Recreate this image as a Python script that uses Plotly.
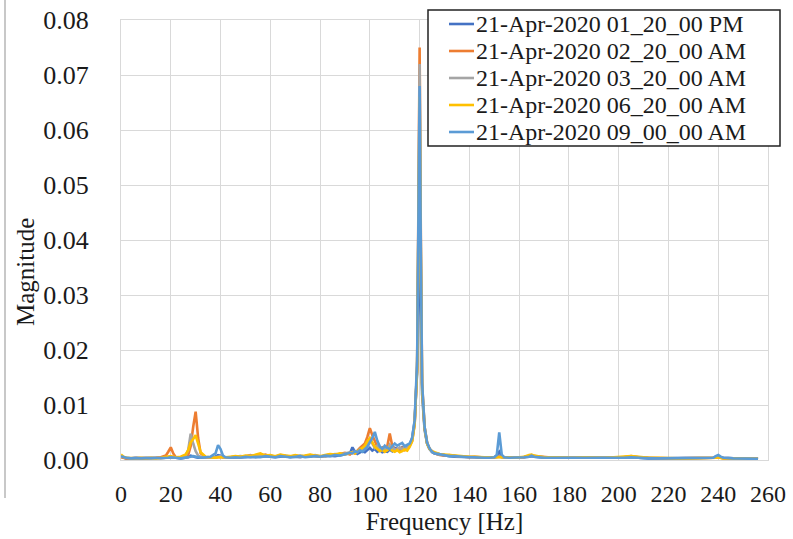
import plotly.graph_objects as go

# Frequency grid [Hz]
freq = [
    0, 1, 2, 4, 6, 8, 10, 12, 14, 16,
    18, 19, 20, 21, 22, 24, 26, 27, 28, 29,
    30, 31, 32, 34, 36, 38, 39, 40, 41, 42,
    44, 46, 48, 50, 52, 54, 56, 58, 60, 62,
    64, 66, 68, 70, 72, 74, 76, 78, 80, 82,
    84, 86, 88, 90, 92, 93, 94, 95, 96, 97,
    98, 99, 100, 101, 102, 103, 104, 105, 106, 107,
    108, 109, 110, 111, 112, 113, 114, 115, 116, 117,
    118, 119, 119.5, 120, 120.5, 121, 122, 123, 124, 125,
    126, 128, 130, 132, 134, 136, 138, 140, 142, 144,
    146, 148, 150, 151, 152, 153, 154, 156, 158, 160,
    162, 164, 165, 166, 168, 170, 174, 178, 182, 186,
    190, 194, 198, 202, 205, 208, 212, 216, 220, 224,
    228, 232, 236, 238, 239, 240, 241, 242, 246, 250,
    253, 256,
]

mag_0120pm = [
    0.0006, 0.0004, 0.0003, 0.0003, 0.0004, 0.0003, 0.0003, 0.0004, 0.0003, 0.0003,
    0.0004, 0.0005, 0.0005, 0.0004, 0.0004, 0.0003, 0.0004, 0.0005, 0.0008, 0.0006,
    0.0005, 0.0004, 0.0004, 0.0004, 0.0005, 0.0006, 0.0009, 0.0008, 0.0005, 0.0004,
    0.0004, 0.0005, 0.0004, 0.0005, 0.0006, 0.0005, 0.0006, 0.0007, 0.0006, 0.0005,
    0.0006, 0.0007, 0.0005, 0.0006, 0.0005, 0.0007, 0.0006, 0.0008, 0.0006, 0.0007,
    0.0008, 0.0007, 0.0009, 0.0010, 0.0012, 0.0023, 0.0015, 0.0011, 0.0013, 0.0016,
    0.0014, 0.0018, 0.0022, 0.0017, 0.0020, 0.0015, 0.0018, 0.0014, 0.0016, 0.0015,
    0.0019, 0.0016, 0.0022, 0.0020, 0.0017, 0.0023, 0.0020, 0.0024, 0.0028, 0.0040,
    0.0070, 0.0160, 0.0370, 0.0360, 0.0220, 0.0120, 0.0055, 0.0030, 0.0020, 0.0014,
    0.0012, 0.0010, 0.0008, 0.0007, 0.0006, 0.0006, 0.0005, 0.0005, 0.0005, 0.0004,
    0.0004, 0.0004, 0.0005, 0.0008, 0.0015, 0.0007, 0.0005, 0.0004, 0.0004, 0.0004,
    0.0005, 0.0006, 0.0007, 0.0006, 0.0005, 0.0004, 0.0004, 0.0004, 0.0003, 0.0004,
    0.0003, 0.0003, 0.0004, 0.0004, 0.0005, 0.0004, 0.0003, 0.0003, 0.0003, 0.0003,
    0.0003, 0.0003, 0.0003, 0.0004, 0.0006, 0.0007, 0.0005, 0.0004, 0.0003, 0.0003,
    0.0003, 0.0002,
]

mag_0220am = [
    0.0005, 0.0004, 0.0003, 0.0003, 0.0003, 0.0004, 0.0003, 0.0003, 0.0004, 0.0005,
    0.0008, 0.0015, 0.0023, 0.0012, 0.0005, 0.0004, 0.0005, 0.0009, 0.0025, 0.0060,
    0.0088, 0.0040, 0.0012, 0.0005, 0.0004, 0.0004, 0.0005, 0.0005, 0.0004, 0.0004,
    0.0005, 0.0006, 0.0005, 0.0007, 0.0009, 0.0006, 0.0008, 0.0010, 0.0007, 0.0006,
    0.0008, 0.0007, 0.0006, 0.0008, 0.0006, 0.0007, 0.0009, 0.0007, 0.0006, 0.0008,
    0.0010, 0.0009, 0.0011, 0.0013, 0.0010, 0.0014, 0.0012, 0.0018, 0.0022, 0.0026,
    0.0030, 0.0042, 0.0058, 0.0045, 0.0035, 0.0024, 0.0020, 0.0023, 0.0018, 0.0025,
    0.0048, 0.0026, 0.0018, 0.0020, 0.0016, 0.0022, 0.0018, 0.0020, 0.0026, 0.0035,
    0.0065, 0.0170, 0.0450, 0.0750, 0.0400, 0.0140, 0.0060, 0.0032, 0.0020, 0.0015,
    0.0012, 0.0009, 0.0008, 0.0009, 0.0007, 0.0006, 0.0006, 0.0005, 0.0006, 0.0005,
    0.0005, 0.0004, 0.0004, 0.0005, 0.0007, 0.0005, 0.0004, 0.0005, 0.0004, 0.0004,
    0.0005, 0.0007, 0.0009, 0.0007, 0.0006, 0.0005, 0.0004, 0.0004, 0.0004, 0.0004,
    0.0003, 0.0004, 0.0005, 0.0005, 0.0007, 0.0005, 0.0004, 0.0003, 0.0003, 0.0003,
    0.0003, 0.0003, 0.0003, 0.0003, 0.0004, 0.0005, 0.0004, 0.0003, 0.0003, 0.0003,
    0.0003, 0.0002,
]

mag_0320am = [
    0.0006, 0.0005, 0.0004, 0.0003, 0.0004, 0.0003, 0.0004, 0.0003, 0.0004, 0.0003,
    0.0004, 0.0005, 0.0006, 0.0005, 0.0004, 0.0005, 0.0008, 0.0018, 0.0048, 0.0030,
    0.0016, 0.0008, 0.0006, 0.0005, 0.0004, 0.0005, 0.0006, 0.0007, 0.0005, 0.0004,
    0.0005, 0.0006, 0.0007, 0.0006, 0.0008, 0.0007, 0.0009, 0.0007, 0.0008, 0.0006,
    0.0009, 0.0008, 0.0006, 0.0007, 0.0008, 0.0006, 0.0007, 0.0009, 0.0007, 0.0006,
    0.0009, 0.0011, 0.0010, 0.0012, 0.0014, 0.0013, 0.0016, 0.0015, 0.0020, 0.0018,
    0.0024, 0.0028, 0.0036, 0.0030, 0.0022, 0.0026, 0.0020, 0.0018, 0.0022, 0.0019,
    0.0028, 0.0022, 0.0020, 0.0018, 0.0023, 0.0019, 0.0024, 0.0021, 0.0027, 0.0036,
    0.0068, 0.0170, 0.0420, 0.0720, 0.0380, 0.0135, 0.0060, 0.0030, 0.0020, 0.0015,
    0.0013, 0.0010, 0.0009, 0.0008, 0.0008, 0.0007, 0.0006, 0.0006, 0.0005, 0.0005,
    0.0005, 0.0005, 0.0004, 0.0005, 0.0006, 0.0005, 0.0004, 0.0004, 0.0005, 0.0004,
    0.0006, 0.0007, 0.0008, 0.0007, 0.0006, 0.0005, 0.0005, 0.0004, 0.0004, 0.0004,
    0.0004, 0.0004, 0.0004, 0.0005, 0.0006, 0.0005, 0.0004, 0.0003, 0.0003, 0.0003,
    0.0003, 0.0003, 0.0004, 0.0004, 0.0005, 0.0006, 0.0005, 0.0004, 0.0003, 0.0003,
    0.0003, 0.0002,
]

mag_0620am = [
    0.0010, 0.0006, 0.0004, 0.0003, 0.0003, 0.0004, 0.0003, 0.0004, 0.0003, 0.0004,
    0.0005, 0.0006, 0.0007, 0.0006, 0.0005, 0.0006, 0.0010, 0.0018, 0.0032, 0.0038,
    0.0045, 0.0030, 0.0014, 0.0006, 0.0005, 0.0004, 0.0005, 0.0005, 0.0004, 0.0005,
    0.0006, 0.0007, 0.0006, 0.0008, 0.0007, 0.0009, 0.0012, 0.0008, 0.0009, 0.0007,
    0.0010, 0.0008, 0.0007, 0.0009, 0.0007, 0.0008, 0.0010, 0.0008, 0.0007, 0.0009,
    0.0011, 0.0010, 0.0012, 0.0010, 0.0013, 0.0014, 0.0012, 0.0016, 0.0019, 0.0022,
    0.0026, 0.0034, 0.0040, 0.0032, 0.0024, 0.0020, 0.0016, 0.0019, 0.0015, 0.0018,
    0.0022, 0.0017, 0.0015, 0.0018, 0.0014, 0.0016, 0.0019, 0.0017, 0.0024, 0.0034,
    0.0065, 0.0165, 0.0400, 0.0660, 0.0360, 0.0130, 0.0058, 0.0030, 0.0020, 0.0016,
    0.0014, 0.0011, 0.0010, 0.0009, 0.0008, 0.0007, 0.0007, 0.0006, 0.0006, 0.0005,
    0.0005, 0.0005, 0.0005, 0.0005, 0.0006, 0.0005, 0.0005, 0.0005, 0.0004, 0.0005,
    0.0006, 0.0009, 0.0010, 0.0008, 0.0006, 0.0005, 0.0005, 0.0004, 0.0004, 0.0005,
    0.0004, 0.0004, 0.0005, 0.0006, 0.0007, 0.0006, 0.0004, 0.0004, 0.0003, 0.0003,
    0.0003, 0.0003, 0.0003, 0.0004, 0.0004, 0.0005, 0.0004, 0.0003, 0.0003, 0.0003,
    0.0003, 0.0002,
]

mag_0900am = [
    0.0007, 0.0005, 0.0004, 0.0003, 0.0003, 0.0003, 0.0004, 0.0003, 0.0003, 0.0004,
    0.0003, 0.0004, 0.0005, 0.0004, 0.0004, 0.0003, 0.0004, 0.0005, 0.0006, 0.0007,
    0.0006, 0.0005, 0.0004, 0.0005, 0.0006, 0.0012, 0.0027, 0.0020, 0.0008, 0.0005,
    0.0004, 0.0005, 0.0004, 0.0006, 0.0005, 0.0006, 0.0005, 0.0007, 0.0006, 0.0005,
    0.0007, 0.0006, 0.0005, 0.0006, 0.0007, 0.0005, 0.0006, 0.0007, 0.0006, 0.0008,
    0.0007, 0.0009, 0.0008, 0.0011, 0.0013, 0.0012, 0.0016, 0.0014, 0.0018, 0.0015,
    0.0020, 0.0024, 0.0032, 0.0040, 0.0051, 0.0035, 0.0025, 0.0020, 0.0026, 0.0022,
    0.0020, 0.0025, 0.0030, 0.0026, 0.0028, 0.0031, 0.0025, 0.0028, 0.0030, 0.0040,
    0.0072, 0.0180, 0.0440, 0.0680, 0.0370, 0.0140, 0.0060, 0.0032, 0.0021, 0.0015,
    0.0012, 0.0010, 0.0008, 0.0007, 0.0007, 0.0006, 0.0005, 0.0005, 0.0005, 0.0004,
    0.0004, 0.0004, 0.0005, 0.0009, 0.0050, 0.0010, 0.0005, 0.0004, 0.0004, 0.0004,
    0.0005, 0.0006, 0.0008, 0.0006, 0.0005, 0.0004, 0.0004, 0.0004, 0.0003, 0.0004,
    0.0003, 0.0003, 0.0004, 0.0004, 0.0005, 0.0004, 0.0003, 0.0003, 0.0003, 0.0003,
    0.0003, 0.0003, 0.0003, 0.0004, 0.0007, 0.0009, 0.0006, 0.0004, 0.0003, 0.0003,
    0.0003, 0.0002,
]

series_names = [
    "21-Apr-2020 01_20_00 PM",
    "21-Apr-2020 02_20_00 AM",
    "21-Apr-2020 03_20_00 AM",
    "21-Apr-2020 06_20_00 AM",
    "21-Apr-2020 09_00_00 AM",
]
series_values = [mag_0120pm, mag_0220am, mag_0320am, mag_0620am, mag_0900am]
series_colors = ["#4472C4", "#ED7D31", "#A5A5A5", "#FFC000", "#5B9BD5"]

x_ticks = list(range(0, 261, 20))
y_ticks = [0.00, 0.01, 0.02, 0.03, 0.04, 0.05, 0.06, 0.07, 0.08]

FONT = "Liberation Serif, Times New Roman, serif"
TXT = "#1a1a1a"

# plot-area geometry in pixels (for placing the legend box)
L, R, T, B = 121, 768, 20, 460
W, H = R - L, B - T


def px(xp):
    return (xp - L) / W


def py(yp):
    return (B - yp) / H


fig = go.Figure()
for name, vals, col in zip(series_names, series_values, series_colors):
    fig.add_trace(go.Scatter(
        x=freq, y=vals, mode="lines", name=name,
        line=dict(color=col, width=2.6), showlegend=False,
    ))

fig.update_layout(
    width=793, height=539,
    margin=dict(l=L, r=793 - R, t=T, b=539 - B, autoexpand=False),
    paper_bgcolor="white", plot_bgcolor="white",
    font=dict(family=FONT, color=TXT, size=24),
    showlegend=False,
)
fig.update_xaxes(
    range=[0, 260], tickvals=x_ticks, ticktext=[str(v) for v in x_ticks],
    showgrid=True, gridcolor="#d9d9d9", gridwidth=1,
    showline=True, linecolor="#d9d9d9", linewidth=1, mirror=True,
    zeroline=False, ticks="outside", ticklen=12, tickcolor="rgba(0,0,0,0)",
    title=dict(text="Frequency [Hz]", font=dict(family=FONT, size=25), standoff=6),
    tickfont=dict(family=FONT, size=24),
)
fig.update_yaxes(
    range=[0, 0.08], tickvals=y_ticks, ticktext=[f"{v:.2f}" for v in y_ticks],
    showgrid=True, gridcolor="#d9d9d9", gridwidth=1,
    showline=True, linecolor="#d9d9d9", linewidth=1, mirror=True,
    zeroline=False, ticks="outside", ticklen=26, tickcolor="rgba(0,0,0,0)",
    title=dict(text=""),
    tickfont=dict(family=FONT, size=26),
)

# y-axis title
fig.add_annotation(text="Magnitude", xref="paper", yref="paper",
                   x=px(25), y=py(272), xanchor="center", yanchor="middle",
                   textangle=-90, showarrow=False,
                   font=dict(family=FONT, size=25, color=TXT))

# legend box, drawn by hand to match the compact row spacing
fig.add_shape(type="rect", xref="paper", yref="paper",
              x0=px(428), x1=px(780), y0=py(146), y1=py(10),
              fillcolor="white", line=dict(color="#222222", width=1.5), layer="above")
row_y = [24, 51, 78, 105, 132]
for name, col, yy in zip(series_names, series_colors, row_y):
    fig.add_shape(type="line", xref="paper", yref="paper",
                  x0=px(449), x1=px(474), y0=py(yy), y1=py(yy),
                  line=dict(color=col, width=2.6), layer="above")
    fig.add_annotation(text=name, xref="paper", yref="paper",
                       x=px(475), y=py(yy), xanchor="left", yanchor="middle",
                       showarrow=False, borderpad=0,
                       font=dict(family=FONT, size=24, color=TXT))

# thin frame edge visible at the left of the original image
fig.add_shape(type="line", xref="paper", yref="paper",
              x0=px(5), x1=px(5), y0=py(498), y1=py(0),
              line=dict(color="#c8c8c8", width=2))

fig.write_html("out.html",
               post_script="document.body.style.margin='0px';document.body.style.overflow='hidden';")
